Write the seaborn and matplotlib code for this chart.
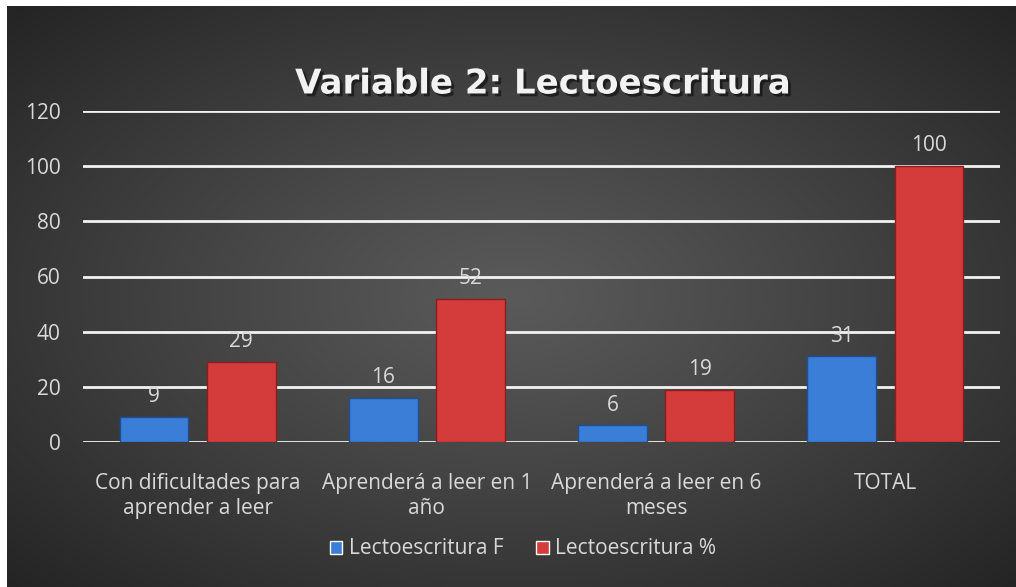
import numpy as np
import pandas as pd
import matplotlib
matplotlib.use("Agg")
import matplotlib.pyplot as plt
import matplotlib.patheffects as pe
import seaborn as sns

categories = ["Con dificultades para\naprender a leer", "Aprenderá a leer en 1\naño",
              "Aprenderá a leer en 6\nmeses", "TOTAL"]
serie_f = [9, 16, 6, 31]
serie_pct = [29, 52, 19, 100]
series_names = ["Lectoescritura F", "Lectoescritura %"]
yticks = [0, 20, 40, 60, 80, 100, 120]
title = "Variable 2: Lectoescritura"

df = pd.DataFrame({
    "cat": categories * 2,
    "val": serie_f + serie_pct,
    "serie": [series_names[0]] * 4 + [series_names[1]] * 4,
})

sns.set_theme(style="white")
plt.rcParams["font.family"] = ["Open Sans", "DejaVu Sans"]

W, H = 1016, 587
FS = 15
fig = plt.figure(figsize=(W / 100, H / 100), dpi=100)
fig.patch.set_facecolor("white")

# background radial gradient
bg = fig.add_axes([7 / W, 0, 1 - 7 / W, 1 - 6 / H])
ny, nx = 300, 520
yy, xx = np.mgrid[0:ny, 0:nx]
cx, cy = nx * 0.5, ny * 0.5
d = np.sqrt(((xx - cx) / (nx * 0.5)) ** 2 + ((yy - cy) / (ny * 0.5)) ** 2) / np.sqrt(2)
light, dark = 0x5a / 255, 0x24 / 255
g = light + (dark - light) * np.clip(d, 0, 1) ** 1.1
img = np.dstack([g, g, g])
bg.imshow(img, aspect="auto", extent=[0, 1, 0, 1], interpolation="bilinear")
bg.set_axis_off()

ax = fig.add_axes([83 / W, 1 - 442 / H, (1000 - 83) / W, (442 - 111) / H])
ax.set_facecolor("none")
palette = {series_names[0]: "#3b7ed8", series_names[1]: "#d43b3b"}
edges = {series_names[0]: "#1d4f95", series_names[1]: "#8e1c1c"}
sns.barplot(data=df, x="cat", y="val", hue="serie", palette=palette, ax=ax,
            width=0.76, gap=0.21, saturation=1, legend=True, zorder=3)

for cont, name in zip(ax.containers, series_names):
    for bar in cont:
        bar.set_edgecolor(edges[name])
        bar.set_linewidth(1.0)
    ax.bar_label(cont, labels=[str(int(v)) for v in cont.datavalues], padding=7,
                 color="#d9d9d9", fontsize=FS)

ax.set_ylim(0, 120)
ax.set_xlim(-0.5, 3.5)
ax.set_yticks(yticks)
for y in yticks:
    ax.axhline(y, color="#f2f2f2", lw=2, zorder=2)
for s in ax.spines.values():
    s.set_visible(False)
ax.set_xlabel("")
ax.set_ylabel("")
ax.tick_params(axis="y", length=0, pad=16, labelsize=FS, labelcolor="#d9d9d9")
ax.tick_params(axis="x", length=0, pad=22, labelsize=FS, labelcolor="#d9d9d9")
for lbl in ax.get_xticklabels():
    lbl.set_linespacing(1.3)
    lbl.set_horizontalalignment("center")

leg = ax.legend(loc="center", bbox_to_anchor=(523 / W, 1 - 549 / H),
                bbox_transform=fig.transFigure, ncol=2, frameon=False,
                fontsize=FS, handlelength=0.6, handleheight=0.6,
                handletextpad=0.3, columnspacing=1.6)
for t in leg.get_texts():
    t.set_color("#d9d9d9")

fig.text(543 / W, 1 - 84 / H, title, ha="center", va="center", color="#f2f2f2",
         fontsize=24.5, fontweight="bold", family=["DejaVu Sans"],
         path_effects=[pe.withSimplePatchShadow(offset=(2, -2), shadow_rgbFace="black", alpha=0.5)])

fig.savefig("out.png", dpi=100, facecolor=fig.get_facecolor())
